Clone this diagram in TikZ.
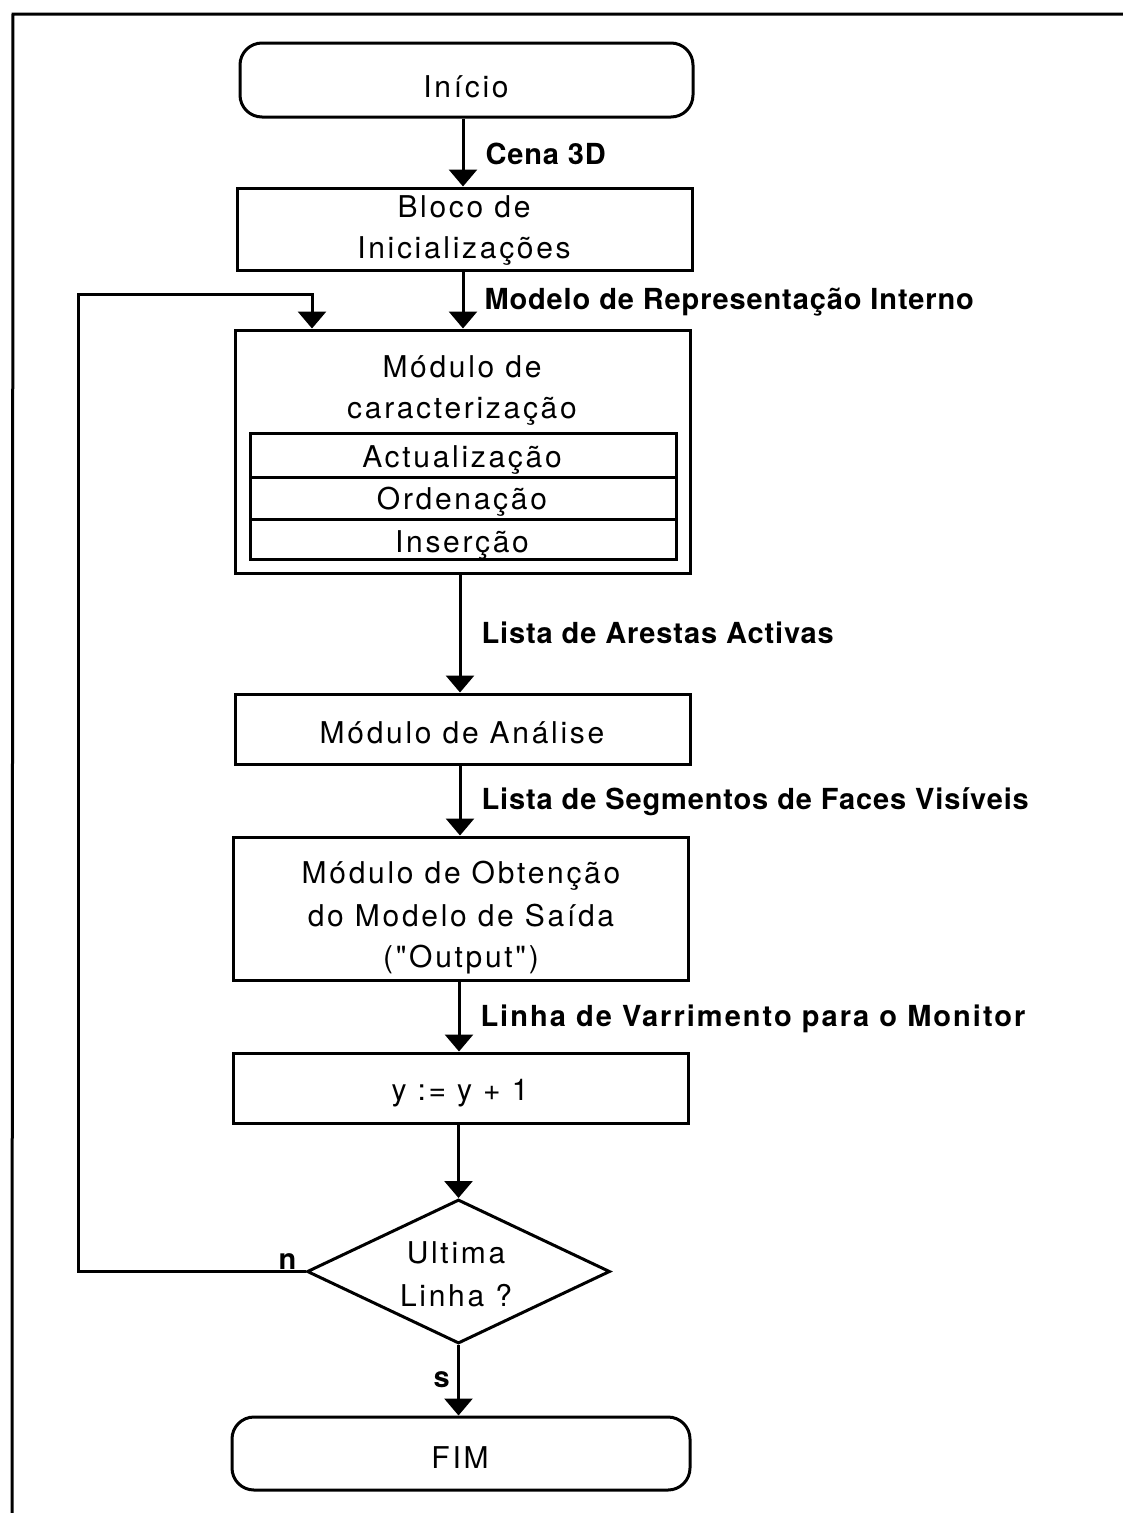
\documentclass[tikz,border=0pt]{standalone}
\usepackage{fontspec}
\setmainfont{TeX Gyre Heros}
\newfontfamily\boxfont[LetterSpace=9]{TeX Gyre Heros}
\newfontfamily\lblfont[LetterSpace=3]{TeX Gyre Heros}
\newfontfamily\lblwidefont[LetterSpace=7]{TeX Gyre Heros}
\usetikzlibrary{arrows.meta,shapes.geometric,calc}
\tikzset{
  x=1pt, y=-1pt,
  every path/.style={line width=3pt},
  blk/.style={draw, line width=3pt, inner sep=0pt, minimum width=455pt},
  term/.style={blk, rounded corners=22pt},
  row/.style={draw, line width=3pt, minimum width=426pt, inner sep=0pt},
  dec/.style={draw, diamond, line width=3pt, inner sep=0pt},
  txt/.style={anchor=base, inner sep=0pt, font=\boxfont\fontsize{30}{36}\selectfont},
  lbl/.style={anchor=base west, inner sep=0pt, font=\lblfont\bfseries\fontsize{29}{34}\selectfont},
  lblwide/.style={lbl, font=\lblwidefont\bfseries\fontsize{29}{34}\selectfont},
  arr/.style={line width=3pt, -{Triangle[width=28pt,length=17pt]}},
}
\begin{document}
\begin{tikzpicture}
\useasboundingbox (0,0) rectangle (1123,1513);
% page frame
\coordinate (fr1) at (12,1513);
\coordinate (fr2) at (13,14);
\coordinate (fr3) at (1123,14);
\draw (fr1) -- (fr2) -- (fr3);

% start
\node[term, minimum width=453pt, minimum height=74pt] (inicio) at (466.5,80) {};
\node[txt] (inicioT) at (466,97) {Início};

% init block
\node[blk, minimum height=82pt] (bloco) at (464.5,229) {};
\node[txt] (bloco1) at (464,217) {Bloco de};
\node[txt] (bloco2) at (464,258) {Inicializações};

% characterisation module
\node[blk, minimum height=243pt] (carac) at (462.5,451.5) {};
\node[txt] (carac1) at (462,377) {Módulo de};
\node[txt] (carac2) at (462,418) {caracterização};
\node[row, minimum height=44pt] (act) at (463,455) {};
\node[row, minimum height=42pt] (ord) at (463,498) {};
\node[row, minimum height=40pt] (ins) at (463,539) {};
\node[txt] (actT) at (462,467) {Actualização};
\node[txt] (ordT) at (462,509) {Ordenação};
\node[txt] (insT) at (462,552) {Inserção};

% analysis
\node[blk, minimum height=70pt] (analise) at (462.5,729) {};
\node[txt] (analiseT) at (462,743) {Módulo de Análise};

% output
\node[blk, minimum height=143pt] (obten) at (460.5,908.5) {};
\node[txt] (obten1) at (461,883) {Módulo de Obtenção};
\node[txt] (obten2) at (461,926) {do Modelo de Saída};
\node[txt] (obten3) at (461,967) {("Output")};

% increment
\node[blk, minimum height=70pt] (incr) at (460.5,1088) {};
\node[txt] (incrT) at (460,1100) {y := y + 1};

% decision
\node[dec, minimum width=303pt, minimum height=144pt] (dia) at (458.5,1271.5) {};
\node[txt] (dia1) at (456,1263) {Ultima};
\node[txt] (dia2) at (456,1306) {Linha ?};

% end
\node[term, minimum width=458pt, minimum height=73pt] (fim) at (461,1453.5) {};
\node[txt] (fimT) at (460,1468) {FIM};

% connectors
\draw[arr] (inicio.south -| 463,0) -- (bloco.north -| 463,0);
\draw[arr] (bloco.south -| 463,0) -- (carac.north -| 463,0);
\draw[arr] (carac.south -| 460,0) -- (analise.north -| 460,0);
\draw[arr] (analise.south -| 460,0) -- (obten.north -| 460,0);
\draw[arr] (obten.south -| 459,0) -- (incr.north -| 459,0);
\draw[arr] (incr.south -| dia.north) -- (dia.north);
\draw[arr] (dia.south) -- (fim.north -| dia.south);

% feedback loop
\coordinate (lpA) at (78,1271.5);
\coordinate (lpB) at (78,294);
\coordinate (lpC) at (312,294);
\draw[arr, line join=miter] (dia.west) -- (lpA) -- (lpB) -- (lpC) -- (lpC |- carac.north);

% labels
\node[lbl] (l1) at (484,164) {Cena 3D};
\node[lbl] (l2) at (483,309) {Modelo de Representação Interno};
\node[lbl] (l3) at (480,643) {Lista de Arestas Activas};
\node[lbl] (l4) at (480,809) {Lista de Segmentos de Faces Visíveis};
\node[lblwide] (l5) at (479,1026) {Linha de Varrimento para o Monitor};
\node[lbl] (ln) at (277,1269) {n};
\node[lbl] (ls) at (432,1387) {s};
\end{tikzpicture}
\end{document}
